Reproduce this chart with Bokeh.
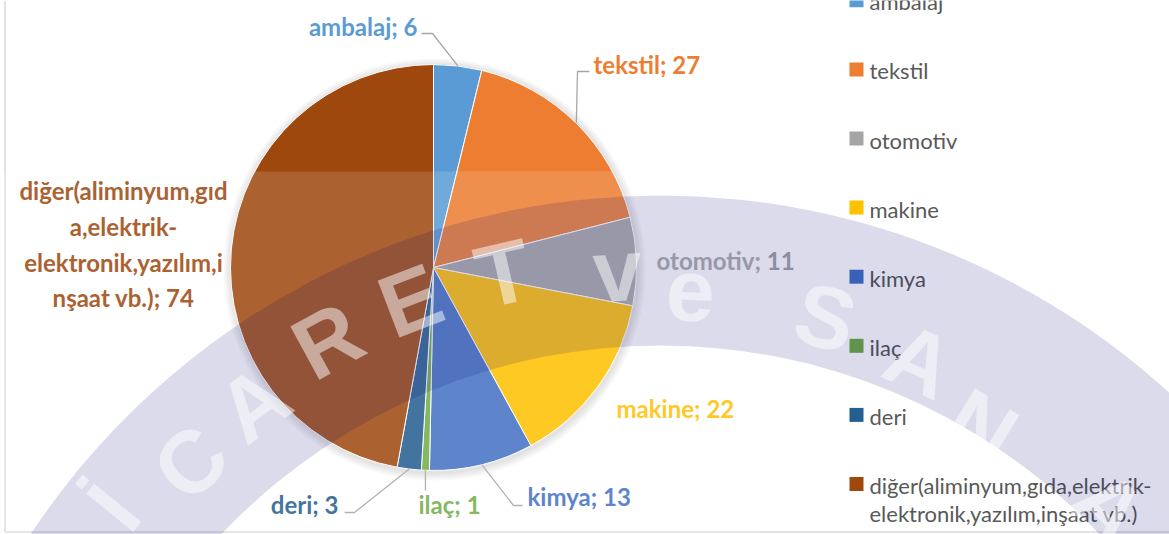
import numpy as np
from bokeh.plotting import figure
from bokeh.models import Range1d
from bokeh.core.properties import value
from bokeh.embed import file_html
from bokeh.resources import INLINE

# ---------------- data ----------------
categories = ["ambalaj", "tekstil", "otomotiv", "makine", "kimya", "ilaç", "deri",
              "diğer(aliminyum,gıda,elektrik-elektronik,yazılım,inşaat vb.)"]
values = [6, 27, 11, 22, 13, 1, 3, 74]
colors = ["#5B9BD5", "#ED7D31", "#A5A5A5", "#FFC000", "#4472C4", "#70AD47", "#255E91", "#9E480E"]
legend_texts = ["ambalaj", "tekstil", "otomotiv", "makine", "kimya", "ilaç", "deri",
                "diğer(aliminyum,gıda,elektrik-\nelektronik,yazılım,inşaat vb.)"]
label_names = ["ambalaj", "tekstil", "otomotiv", "makine", "kimya", "ilaç", "deri",
               "diğer(aliminyum,gıd\na,elektrik-\nelektronik,yazılım,i\nnşaat vb.)"]

# ---------------- layout (reference pixel space) ----------------
W, H = 1169, 534
def Y(y):
    return H - y

CX, CY, R = 433, Y(267), 203
FONT = value("Lato")

p = figure(width=W, height=H, x_range=Range1d(0, W), y_range=Range1d(0, H),
           output_backend="svg", toolbar_location=None, min_border=0,
           x_axis_location=None, y_axis_location=None)
p.grid.visible = False
p.outline_line_color = None
p.background_fill_color = "white"
p.border_fill_color = "white"

# chart frame (left / bottom)
p.segment(x0=[4.5, 4.5], y0=[Y(0), Y(531.5)], x1=[4.5, W], y1=[Y(531.5), Y(531.5)],
          line_color="#D9D9D9", line_width=1.5)

# soft shadow around the pie
p.circle(x=[CX + 1] * 4, y=[CY - 2] * 4, radius=[R + 8, R + 6, R + 4, R + 2],
         fill_color="black", fill_alpha=0.03, line_color=None)

# pie
vals = np.array(values, dtype=float)
frac = vals / vals.sum()
cum_end = np.cumsum(frac)
cum_start = cum_end - frac
start = np.pi / 2 - 2 * np.pi * cum_end
end = np.pi / 2 - 2 * np.pi * cum_start
p.wedge(x=CX, y=CY, radius=R, start_angle=start, end_angle=end, direction="anticlock",
        fill_color=colors, line_color="white", line_width=1)

# leader lines (elbows are layout; pie end = slice mid-angle on edge)
mid = 2 * np.pi * (cum_start + frac / 2)
ex = CX + R * np.sin(mid)
ey = CY + R * np.cos(mid)
leader_pts = {0: [(421, 33), (432, 33)], 1: [(589, 71), (577, 71)],
              4: [(522, 505), (513, 505)], 5: [(425, 490)], 6: [(344, 512), (354, 512)]}
xs, ys = [], []
for i, pts in leader_pts.items():
    xs.append([q[0] for q in pts] + [ex[i]])
    ys.append([Y(q[1]) for q in pts] + [ey[i]])
p.multi_line(xs=xs, ys=ys, line_color="#A6A6A6", line_width=1.3)

# data labels
labels = [f"{n}; {v}" for n, v in zip(label_names, values)]
lab_x = [417, 593, 656, 616, 527, 418, 338, 123]
lab_y = [26, 64, 260, 408, 496, 504, 504, 244]
lab_align = ["right", "left", "left", "left", "left", "left", "right", "center"]
for align in ["right", "left", "center"]:
    idx = [i for i, a in enumerate(lab_align) if a == align]
    p.text(x=[lab_x[i] for i in idx], y=[Y(lab_y[i]) for i in idx],
           text=[labels[i] for i in idx], text_color=[colors[i] for i in idx],
           text_font=FONT, text_font_style="bold", text_font_size="24px",
           text_align=align, text_baseline="middle", text_line_height=1.23)

# scan overlay (lighter lower part of the page, chart area)
p.quad(left=0, right=760, top=Y(171), bottom=Y(H + 5),
       fill_color="white", fill_alpha=0.14, line_color=None)

# legend
leg_y = [-0.2 + 69.1 * i for i in range(len(categories))]
p.rect(x=856, y=[Y(v) for v in leg_y], width=14, height=14, fill_color=colors, line_color=None)
p.text(x=869, y=[Y(v - 12) for v in leg_y], text=legend_texts, text_color="#595959",
       text_font=FONT, text_font_size="22px", text_align="left", text_baseline="top",
       text_line_height=1.02)

# watermark stamp (scan artefact)
WX, WY = 660, Y(950)
p.annulus(x=WX, y=WY, inner_radius=605, outer_radius=755,
          fill_color="#000070", fill_alpha=0.14, line_color=None)
wm_letters = ["İ", "C", "A", "R", "E", "T", "v", "e", "S", "A", "N", "A"]
wm_x = [113, 190, 253, 327, 410, 503, 617, 690, 825, 919, 981, 1108]
wm_y = [507, 462, 403, 340, 300, 273, 270, 290, 317, 360, 427, 507]
wm_rot = [-np.arctan2(x - 660, 950 - y) for x, y in zip(wm_x, wm_y)]
p.text(x=wm_x, y=[Y(v) for v in wm_y], text=wm_letters, angle=wm_rot,
       text_color="white", text_alpha=0.5, text_font=value("Liberation Sans"),
       text_font_style="bold", text_font_size="88px", text_align="center",
       text_baseline="middle")

open("out.html", "w").write(file_html(p, INLINE))
